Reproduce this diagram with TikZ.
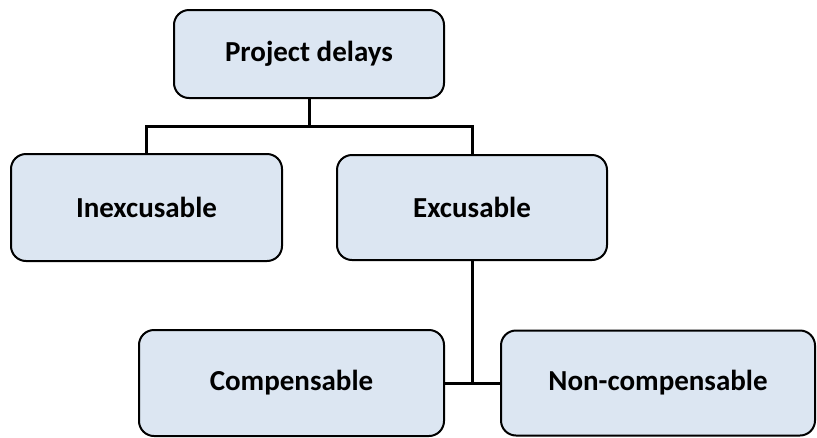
\documentclass[tikz,border=0pt]{standalone}
\usepackage{fontspec}
\setmainfont{Carlito}
\definecolor{boxfill}{HTML}{DCE6F2}
\tikzset{
  catbox/.style={draw=black, line width=2pt, fill=boxfill, rounded corners=15pt,
    inner sep=0pt, align=center, font=\fontsize{29}{34}\selectfont\bfseries},
  conn/.style={draw=black, line width=3pt}
}
\begin{document}
\begin{tikzpicture}[x=1pt, y=-1pt]
\useasboundingbox (0,0) rectangle (817,437);

% category boxes
\node[catbox, minimum width=270pt, minimum height=88pt]  (pd)   at (309,54)    {Project delays};
\node[catbox, minimum width=271pt, minimum height=107pt] (inex) at (146.5,207.5) {Inexcusable};
\node[catbox, minimum width=270pt, minimum height=105pt] (exc)  at (472,207.5) {Excusable};
\node[catbox, minimum width=305pt, minimum height=106pt] (comp) at (291.5,383) {Compensable};
\node[catbox, minimum width=314pt, minimum height=105pt] (ncomp) at (658,383) {Non-compensable};

% tree connectors
\coordinate (bus) at (309,126);
\draw[conn] (pd.south) -- (bus);
\draw[conn] (inex.north) |- (bus) -| (exc.north);
\draw[conn] (exc.south) -- (exc.south |- comp.east);
\draw[conn] (comp.east) -- (ncomp.west);
\end{tikzpicture}
\end{document}
